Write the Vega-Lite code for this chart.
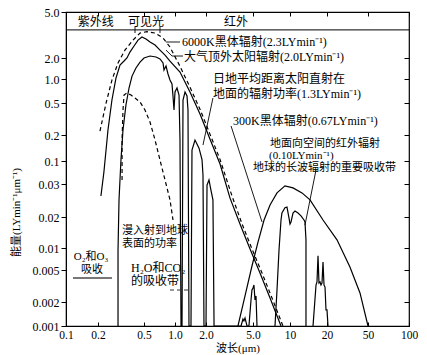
{
  "$schema": "https://vega.github.io/schema/vega-lite/v6.json",
  "width": 343,
  "height": 314,
  "autosize": {"type": "none"},
  "padding": {"left": 66, "top": 12, "right": 18, "bottom": 29},
  "background": "white",
  "config": {
    "view": {"stroke": "black", "strokeWidth": 1.2},
    "axis": {"grid": false, "domainColor": "black", "tickColor": "black", "labelColor": "black", "titleColor": "black", "labelFont": "Liberation Serif", "labelFontSize": 12, "titleFont": "Liberation Serif, Noto Sans CJK SC", "titleFontSize": 11, "titleFontWeight": "normal"},
    "text": {"font": "Liberation Serif, Noto Sans CJK SC", "fontSize": 12, "color": "black"}
  },
  "datasets": {
    "band": [{"y": 3.5}],
    "curves": [
      {"s":"A","o":1,"x":0.208,"y":0.224},{"s":"A","o":2,"x":0.235,"y":0.5},{"s":"A","o":3,"x":0.264,"y":0.97},{"s":"A","o":4,"x":0.298,"y":1.7},{"s":"A","o":5,"x":0.342,"y":2.34},{"s":"A","o":6,"x":0.402,"y":2.86},{"s":"A","o":7,"x":0.462,"y":3.29},{"s":"A","o":8,"x":0.534,"y":3.38},{"s":"A","o":9,"x":0.64,"y":3.29},{"s":"A","o":10,"x":0.765,"y":2.98},{"s":"A","o":11,"x":0.894,"y":2.49},{"s":"A","o":12,"x":1.118,"y":1.52},{"s":"A","o":13,"x":1.398,"y":0.79},{"s":"A","o":14,"x":1.749,"y":0.418},{"s":"A","o":15,"x":2.16,"y":0.205},{"s":"A","o":16,"x":2.63,"y":0.104},{"s":"A","o":17,"x":3.32,"y":0.0259},{"s":"A","o":18,"x":4.04,"y":0.0171},{"s":"A","o":19,"x":4.9,"y":0.0097},{"s":"A","o":20,"x":5.92,"y":0.00459},{"s":"A","o":21,"x":7.14,"y":0.00224},{"s":"A","o":22,"x":8.77,"y":0.001},
      {"s":"B","o":1,"x":0.212,"y":0.0259},{"s":"B","o":2,"x":0.225,"y":0.0562},{"s":"B","o":3,"x":0.244,"y":0.231},{"s":"B","o":4,"x":0.264,"y":0.545},{"s":"B","o":5,"x":0.286,"y":1.03},{"s":"B","o":6,"x":0.31,"y":1.59},{"s":"B","o":7,"x":0.336,"y":1.81},{"s":"B","o":8,"x":0.356,"y":2.0},{"s":"B","o":9,"x":0.378,"y":2.25},{"s":"B","o":10,"x":0.41,"y":2.54},{"s":"B","o":11,"x":0.444,"y":2.86},{"s":"B","o":12,"x":0.48,"y":3.04},{"s":"B","o":13,"x":0.523,"y":2.92},{"s":"B","o":14,"x":0.572,"y":2.75},{"s":"B","o":15,"x":0.64,"y":2.59},{"s":"B","o":16,"x":0.715,"y":2.34},{"s":"B","o":17,"x":0.8,"y":2.12},{"s":"B","o":18,"x":0.894,"y":1.8},{"s":"B","o":19,"x":1.118,"y":1.26},{"s":"B","o":20,"x":1.398,"y":0.687},{"s":"B","o":21,"x":1.749,"y":0.365},{"s":"B","o":22,"x":2.16,"y":0.18},{"s":"B","o":23,"x":2.63,"y":0.0855},{"s":"B","o":24,"x":3.19,"y":0.0253},{"s":"B","o":25,"x":3.88,"y":0.0171},{"s":"B","o":26,"x":4.72,"y":0.0097},{"s":"B","o":27,"x":5.7,"y":0.00459},{"s":"B","o":28,"x":6.88,"y":0.00224},{"s":"B","o":29,"x":8.45,"y":0.001},
      {"s":"C","o":1,"x":0.298,"y":0.001},{"s":"C","o":2,"x":0.298,"y":0.0094},{"s":"C","o":3,"x":0.304,"y":0.0247},{"s":"C","o":4,"x":0.316,"y":0.1026},{"s":"C","o":5,"x":0.329,"y":0.231},{"s":"C","o":6,"x":0.349,"y":0.472},{"s":"C","o":7,"x":0.371,"y":0.771},{"s":"C","o":8,"x":0.394,"y":1.1},{"s":"C","o":9,"x":0.426,"y":1.44},{"s":"C","o":10,"x":0.462,"y":1.75},{"s":"C","o":11,"x":0.5,"y":2.0},{"s":"C","o":12,"x":0.572,"y":2.08},{"s":"C","o":13,"x":0.654,"y":2.04},{"s":"C","o":14,"x":0.715,"y":1.94},{"s":"C","o":15,"x":0.765,"y":1.7},{"s":"C","o":16,"x":0.782,"y":1.35},{"s":"C","o":17,"x":0.818,"y":1.54},{"s":"C","o":18,"x":0.855,"y":1.18},{"s":"C","o":19,"x":0.894,"y":0.972},{"s":"C","o":20,"x":0.935,"y":0.866},{"s":"C","o":21,"x":0.956,"y":0.612},{"s":"C","o":22,"x":0.978,"y":0.409},{"s":"C","o":23,"x":1.0,"y":0.687},{"s":"C","o":24,"x":1.046,"y":0.771},{"s":"C","o":25,"x":1.094,"y":0.63},{"s":"C","o":26,"x":1.118,"y":0.175},{"s":"C","o":27,"x":1.144,"y":0.001},{"s":"C","o":28,"x":1.17,"y":0.001},{"s":"C","o":29,"x":1.196,"y":0.545},{"s":"C","o":30,"x":1.251,"y":0.687},{"s":"C","o":31,"x":1.308,"y":0.612},{"s":"C","o":32,"x":1.337,"y":0.409},{"s":"C","o":33,"x":1.367,"y":0.001},{"s":"C","o":34,"x":1.43,"y":0.001},{"s":"C","o":35,"x":1.462,"y":0.134},{"s":"C","o":36,"x":1.564,"y":0.175},{"s":"C","o":37,"x":1.711,"y":0.141},{"s":"C","o":38,"x":1.829,"y":0.104},{"s":"C","o":39,"x":1.87,"y":0.048},{"s":"C","o":40,"x":1.912,"y":0.001},{"s":"C","o":41,"x":2.0,"y":0.001},{"s":"C","o":42,"x":2.04,"y":0.0296},{"s":"C","o":43,"x":2.12,"y":0.037},{"s":"C","o":44,"x":2.2,"y":0.0279},{"s":"C","o":45,"x":2.29,"y":0.0247},{"s":"C","o":46,"x":2.34,"y":0.001},{"s":"C","o":47,"x":3.96,"y":0.001},{"s":"C","o":48,"x":4.11,"y":0.00122},{"s":"C","o":49,"x":4.19,"y":0.00116},{"s":"C","o":50,"x":4.28,"y":0.00126},{"s":"C","o":51,"x":4.45,"y":0.001},{"s":"C","o":52,"x":4.62,"y":0.001},{"s":"C","o":53,"x":4.81,"y":0.00212},{"s":"C","o":54,"x":4.9,"y":0.00282},{"s":"C","o":55,"x":5.0,"y":0.00299},{"s":"C","o":56,"x":5.09,"y":0.00325},{"s":"C","o":57,"x":5.19,"y":0.00212},{"s":"C","o":58,"x":5.29,"y":0.00238},{"s":"C","o":59,"x":5.39,"y":0.001},
      {"s":"D","o":1,"x":0.323,"y":0.037},{"s":"D","o":2,"x":0.323,"y":0.175},{"s":"D","o":3,"x":0.329,"y":0.409},{"s":"D","o":4,"x":0.336,"y":0.63},{"s":"D","o":5,"x":0.356,"y":0.667},{"s":"D","o":6,"x":0.386,"y":0.63},{"s":"D","o":7,"x":0.418,"y":0.577},{"s":"D","o":8,"x":0.462,"y":0.515},{"s":"D","o":9,"x":0.511,"y":0.409},{"s":"D","o":10,"x":0.572,"y":0.29},{"s":"D","o":11,"x":0.64,"y":0.175},{"s":"D","o":12,"x":0.715,"y":0.1026},{"s":"D","o":13,"x":0.8,"y":0.037},{"s":"D","o":14,"x":0.894,"y":0.0247},{"s":"D","o":15,"x":0.956,"y":0.0187},
      {"s":"E","o":1,"x":3.73,"y":0.001},{"s":"E","o":2,"x":4.28,"y":0.00238},{"s":"E","o":3,"x":4.9,"y":0.00567},{"s":"E","o":4,"x":5.49,"y":0.0114},{"s":"E","o":5,"x":6.15,"y":0.0187},{"s":"E","o":6,"x":6.88,"y":0.0232},{"s":"E","o":7,"x":7.84,"y":0.0269},{"s":"E","o":8,"x":9.1,"y":0.0293},{"s":"E","o":9,"x":10.58,"y":0.0286},{"s":"E","o":10,"x":12.52,"y":0.0269},{"s":"E","o":11,"x":14.55,"y":0.0247},{"s":"E","o":12,"x":18.56,"y":0.0187},{"s":"E","o":13,"x":25.0,"y":0.012},{"s":"E","o":14,"x":33.4,"y":0.0055},{"s":"E","o":15,"x":41.8,"y":0.00259},{"s":"E","o":16,"x":50,"y":0.001},
      {"s":"W","o":1,"x":7.55,"y":0.001},{"s":"W","o":2,"x":7.84,"y":0.00282},{"s":"W","o":3,"x":8.14,"y":0.0094},{"s":"W","o":4,"x":8.45,"y":0.0187},{"s":"W","o":5,"x":8.6,"y":0.021},{"s":"W","o":6,"x":9.1,"y":0.0224},{"s":"W","o":7,"x":9.45,"y":0.0226},{"s":"W","o":8,"x":9.81,"y":0.0196},{"s":"W","o":9,"x":10.0,"y":0.0171},{"s":"W","o":10,"x":10.19,"y":0.0179},{"s":"W","o":11,"x":10.58,"y":0.021},{"s":"W","o":12,"x":10.98,"y":0.0215},{"s":"W","o":13,"x":11.62,"y":0.021},{"s":"W","o":14,"x":12.29,"y":0.0203},{"s":"W","o":15,"x":13.0,"y":0.0187},{"s":"W","o":16,"x":13.24,"y":0.0179},{"s":"W","o":17,"x":13.49,"y":0.012},{"s":"W","o":18,"x":13.49,"y":0.001},
      {"s":"F","o":1,"x":15.39,"y":0.001},{"s":"F","o":2,"x":16.28,"y":0.00325},{"s":"F","o":3,"x":16.58,"y":0.00355},{"s":"F","o":4,"x":16.9,"y":0.0078},{"s":"F","o":5,"x":17.21,"y":0.00344},{"s":"F","o":6,"x":17.54,"y":0.00355},{"s":"F","o":7,"x":17.87,"y":0.00325},{"s":"F","o":8,"x":18.21,"y":0.00344},{"s":"F","o":9,"x":18.56,"y":0.00643},{"s":"F","o":10,"x":18.91,"y":0.00325},{"s":"F","o":11,"x":19.27,"y":0.00307},{"s":"F","o":12,"x":19.63,"y":0.00159},{"s":"F","o":13,"x":20.0,"y":0.00159},{"s":"F","o":14,"x":20.45,"y":0.001},
      {"s":"L1","o":1,"x":2.29,"y":0.577},{"s":"L1","o":2,"x":1.87,"y":0.153},
      {"s":"L2","o":1,"x":0.818,"y":2.75},{"s":"L2","o":2,"x":1.118,"y":2.75},
      {"s":"L3","o":1,"x":0.818,"y":2.34},{"s":"L3","o":2,"x":0.935,"y":2.08},{"s":"L3","o":3,"x":1.196,"y":2.08},
      {"s":"L4","o":1,"x":3.26,"y":0.259},{"s":"L4","o":2,"x":5.92,"y":0.0179},
      {"s":"L5","o":1,"x":16.28,"y":0.0624},{"s":"L5","o":2,"x":13.24,"y":0.0167},
      {"s":"V1","o":1,"x":0.418,"y":3.29},{"s":"V1","o":2,"x":0.418,"y":3.71},
      {"s":"V2","o":1,"x":0.715,"y":3.29},{"s":"V2","o":2,"x":0.715,"y":3.71},
      {"s":"LH","o":1,"x":0.894,"y":0.00282},{"s":"LH","o":2,"x":1.462,"y":0.00282},
      {"s":"LO","o":1,"x":0.1164,"y":0.00398},{"s":"LO","o":2,"x":0.264,"y":0.00398}
    ],
    "texts": [
      {"t":"6000K黑体辐射(2.3LYmin⁻¹)","a":"left","x":1.17,"y":2.75},
      {"t":"大气顶外太阳辐射(2.0LYmin⁻¹)","a":"left","x":1.223,"y":2.04},
      {"t":"日地平均距离太阳直射在","a":"left","x":2.29,"y":1.0},
      {"t":"地面的辐射功率(1.3LYmin⁻¹)","a":"left","x":2.29,"y":0.65},
      {"t":"300K黑体辐射(0.67LYmin⁻¹)","a":"left","x":3.39,"y":0.299},
      {"t":"地面向空间的红外辐射","a":"small","x":6.88,"y":0.157},
      {"t":"(0.10LYmin⁻¹)","a":"small","x":6.75,"y":0.113},
      {"t":"地球的长波辐射的重要吸收带","a":"small","x":5.0,"y":0.0694},
      {"t":"漫入射到地球","a":"small","x":0.323,"y":0.0146},
      {"t":"表面的功率","a":"small","x":0.323,"y":0.0109},
      {"t":"H₂O和CO₂","a":"left","x":0.386,"y":0.00533},
      {"t":"的吸收带","a":"left","x":0.386,"y":0.00365},
      {"t":"紫外线","a":"center","x":0.19,"y":4.1},
      {"t":"可见光","a":"center","x":0.523,"y":4.1},
      {"t":"红外","a":"center","x":3.59,"y":4.1},
      {"t":"O₂和O₃","a":"csmall","x":0.172,"y":0.00753},
      {"t":"吸收","a":"csmall","x":0.176,"y":0.005}
    ]
  },
  "layer": [
    {
      "data": {"name": "band"},
      "mark": {"type": "rule", "color": "black", "strokeWidth": 1},
      "encoding": {
        "y": {"field": "y", "type": "quantitative", "scale": {"type": "log", "nice": false, "domain": [0.001,0.002,0.005,0.01,0.02,0.03,0.1,0.2,0.5,1,2,5], "range": [314,290,258,236,205,172,149,123,91,67,46,0]}, "axis": null}
      }
    },
    {
      "data": {"name": "curves"},
      "transform": [{"filter": {"field": "s", "oneOf": ["B","C","E","W","F"]}}],
      "mark": {"type": "line", "color": "black", "strokeWidth": 1.2, "clip": true},
      "encoding": {
        "x": {"field": "x", "type": "quantitative", "scale": {"type": "log", "nice": false, "domain": [0.1,0.2,0.5,1,2,5,10,20,50,100], "range": [0,32,78,109,140,187,224,261,302,343]},
          "axis": {"orient": "bottom", "values": [0.1,0.2,0.5,1,2,5,10,20,50,100], "labelExpr": "datum.value < 10 ? format(datum.value, '.1f') : format(datum.value, 'd')", "ticks": false, "labelPadding": 3, "labelFontSize": 11.5, "labelFlush": false, "labelOverlap": false, "title": "波长(μm)", "titlePadding": 2}},
        "y": {"field": "y", "type": "quantitative", "scale": {"type": "log", "nice": false, "domain": [0.001,0.002,0.005,0.01,0.02,0.03,0.1,0.2,0.5,1,2,5], "range": [314,290,258,236,205,172,149,123,91,67,46,0]},
          "axis": {"orient": "left", "values": [0.001,0.002,0.005,0.01,0.02,0.03,0.1,0.2,0.5,1,2,5], "labelExpr": "datum.value >= 1 ? format(datum.value, '.1f') : format(datum.value, '~g')", "tickSize": 5, "labelPadding": 2, "labelFlush": false, "labelOverlap": false, "title": "能量(LYmin⁻¹μm⁻¹)", "titleX": -45, "titleY": 200}},
        "detail": {"field": "s"},
        "order": {"field": "o"}
      }
    },
    {
      "data": {"name": "curves"},
      "transform": [{"filter": {"field": "s", "oneOf": ["A","D"]}}],
      "mark": {"type": "line", "color": "black", "strokeWidth": 1.2, "strokeDash": [4, 3], "clip": true},
      "encoding": {
        "x": {"field": "x", "type": "quantitative", "axis": null},
        "y": {"field": "y", "type": "quantitative", "axis": null},
        "detail": {"field": "s"},
        "order": {"field": "o"}
      }
    },
    {
      "data": {"name": "curves"},
      "transform": [{"filter": {"field": "s", "oneOf": ["L1","L2","L3","L4","L5","V1","V2"]}}],
      "mark": {"type": "line", "color": "black", "strokeWidth": 0.9},
      "encoding": {
        "x": {"field": "x", "type": "quantitative", "axis": null},
        "y": {"field": "y", "type": "quantitative", "axis": null},
        "detail": {"field": "s"},
        "order": {"field": "o"}
      }
    },
    {
      "data": {"name": "curves"},
      "transform": [{"filter": {"field": "s", "equal": "LH"}}],
      "mark": {"type": "line", "color": "#333", "strokeWidth": 1, "strokeDash": [4, 3]},
      "encoding": {
        "x": {"field": "x", "type": "quantitative", "axis": null},
        "y": {"field": "y", "type": "quantitative", "axis": null},
        "order": {"field": "o"}
      }
    },
    {
      "data": {"name": "curves"},
      "transform": [{"filter": {"field": "s", "equal": "LO"}}],
      "mark": {"type": "line", "color": "#777", "strokeWidth": 2},
      "encoding": {
        "x": {"field": "x", "type": "quantitative", "axis": null},
        "y": {"field": "y", "type": "quantitative", "axis": null},
        "order": {"field": "o"}
      }
    },
    {
      "data": {"name": "texts"},
      "transform": [{"filter": {"field": "a", "equal": "left"}}],
      "mark": {"type": "text", "align": "left", "baseline": "middle"},
      "encoding": {
        "x": {"field": "x", "type": "quantitative", "axis": null},
        "y": {"field": "y", "type": "quantitative", "axis": null},
        "text": {"field": "t"}
      }
    },
    {
      "data": {"name": "texts"},
      "transform": [{"filter": {"field": "a", "equal": "small"}}],
      "mark": {"type": "text", "align": "left", "baseline": "middle", "fontSize": 11},
      "encoding": {
        "x": {"field": "x", "type": "quantitative", "axis": null},
        "y": {"field": "y", "type": "quantitative", "axis": null},
        "text": {"field": "t"}
      }
    },
    {
      "data": {"name": "texts"},
      "transform": [{"filter": {"field": "a", "equal": "center"}}],
      "mark": {"type": "text", "align": "center", "baseline": "middle"},
      "encoding": {
        "x": {"field": "x", "type": "quantitative", "axis": null},
        "y": {"field": "y", "type": "quantitative", "axis": null},
        "text": {"field": "t"}
      }
    },
    {
      "data": {"name": "texts"},
      "transform": [{"filter": {"field": "a", "equal": "csmall"}}],
      "mark": {"type": "text", "align": "center", "baseline": "middle", "fontSize": 11},
      "encoding": {
        "x": {"field": "x", "type": "quantitative", "axis": null},
        "y": {"field": "y", "type": "quantitative", "axis": null},
        "text": {"field": "t"}
      }
    },
    {
      "data": {"name": "texts"},
      "mark": {"type": "point", "opacity": 0},
      "encoding": {
        "x": {"field": "x", "type": "quantitative", "axis": {"orient": "bottom", "values": [0.1,0.2,0.5,1,2,5,10,20,50,100], "labels": false, "tickSize": -4, "domain": false, "title": null}},
        "y": {"field": "y", "type": "quantitative", "axis": {"orient": "right", "values": [0.001,0.002,0.005,0.01,0.02,0.03,0.1,0.2,0.5,1,2,5], "labels": false, "tickSize": -5, "domain": false, "title": null}}
      }
    },
    {
      "data": {"name": "texts"},
      "mark": {"type": "point", "opacity": 0},
      "encoding": {
        "x": {"field": "x", "type": "quantitative", "axis": {"orient": "top", "values": [0.1,0.2,0.5,1,2,5,10,20,50,100], "labels": false, "tickSize": -4, "domain": false, "title": null}},
        "y": {"field": "y", "type": "quantitative", "axis": null}
      }
    }
  ],
  "resolve": {"axis": {"x": "independent", "y": "independent"}}
}
